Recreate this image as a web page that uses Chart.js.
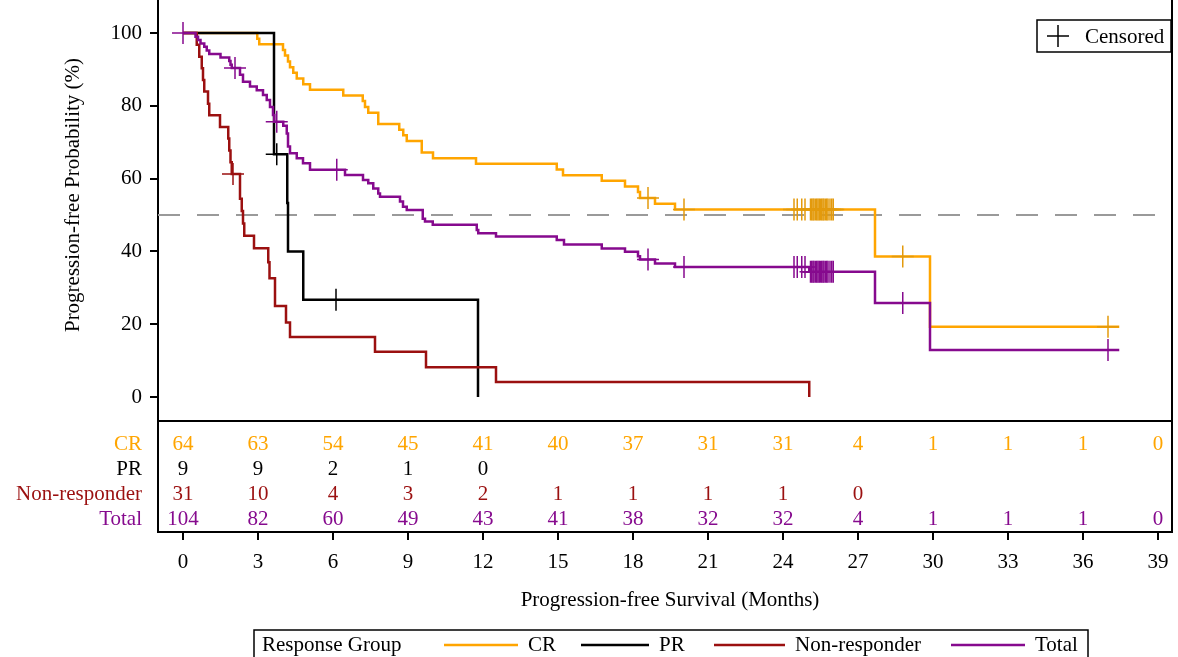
<!DOCTYPE html>
<html>
<head>
<meta charset="utf-8">
<title>Progression-free survival</title>
<script src="https://cdn.jsdelivr.net/npm/chart.js@4/dist/chart.umd.min.js"></script>
<style>
  body { margin: 0; background: #fff; }
</style>
</head>
<body>
<canvas id="kmChart" width="1178" height="657"></canvas>
<script>
// axis ticks
const xTicks = [0, 3, 6, 9, 12, 15, 18, 21, 24, 27, 30, 33, 36, 39];
const yTicks = [0, 20, 40, 60, 80, 100];

// Kaplan-Meier steps: time (months) where the curve drops, value after the drop (%)
const crTime = [0, 2.97, 3.05, 4.0, 4.08, 4.2, 4.28, 4.41, 4.55, 4.81, 5.08, 6.41, 7.19, 7.28, 7.41, 7.81, 8.65, 8.81, 8.95, 9.55, 10.0, 11.72, 14.95, 15.2, 16.75, 17.68, 18.2, 18.28, 18.88, 19.68, 27.68, 29.88, 37.45];
const crSurv = [100, 98.4, 96.9, 95.3, 93.8, 92.2, 90.6, 89.1, 87.5, 85.9, 84.4, 82.8, 81.3, 79.7, 78.1, 75.0, 73.4, 71.9, 70.3, 67.2, 65.6, 64.1, 62.5, 60.9, 59.4, 57.8, 56.3, 54.7, 53.1, 51.5, 38.6, 19.3, 19.3];

const prTime = [0, 3.64, 4.17, 4.2, 4.81, 11.8];
const prSurv = [100, 66.7, 53.3, 40.0, 26.7, 0];

const nrTime = [0, 0.55, 0.65, 0.75, 0.8, 0.85, 1.0, 1.05, 1.48, 1.81, 1.85, 1.9, 1.95, 2.28, 2.35, 2.4, 2.45, 2.84, 3.41, 3.46, 3.68, 4.12, 4.28, 7.68, 9.72, 12.52, 25.05];
const nrSurv = [100, 96.8, 93.5, 90.3, 87.1, 83.9, 80.6, 77.4, 74.2, 71.0, 67.7, 64.5, 61.3, 54.5, 51.1, 47.7, 44.3, 40.9, 37.0, 32.6, 25.0, 20.5, 16.5, 12.4, 8.2, 4.1, 0];

const totalTime = [0, 0.5, 0.6, 0.7, 0.85, 0.95, 1.05, 1.5, 1.85, 1.9, 1.95, 2.28, 2.4, 2.68, 2.95, 3.2, 3.35, 3.48, 3.6, 3.65, 4.01, 4.15, 4.2, 4.28, 4.55, 4.8, 5.08, 6.48, 7.2, 7.41, 7.61, 7.81, 7.88, 8.68, 8.8, 8.95, 9.59, 9.68, 9.99, 11.75, 11.81, 12.52, 14.95, 15.24, 16.75, 17.68, 18.2, 18.28, 18.88, 19.68, 25.05, 27.68, 29.88, 37.45];
const totalSurv = [100, 99.0, 98.1, 97.1, 96.2, 95.2, 94.2, 93.3, 92.3, 91.3, 90.4, 88.5, 86.6, 85.3, 84.3, 83.0, 81.6, 79.7, 77.5, 75.6, 74.5, 72.4, 68.8, 67.0, 65.6, 64.2, 62.4, 61.0, 59.6, 58.7, 57.3, 55.9, 55.0, 53.7, 52.3, 51.4, 49.0, 48.2, 47.3, 45.9, 45.0, 44.1, 43.1, 41.9, 40.8, 39.9, 38.7, 37.8, 36.7, 35.7, 34.4, 25.8, 12.9, 12.9];

// censoring times (months)
const lateCensor = [24.44, 24.57, 24.75, 24.88, 25.1, 25.15, 25.2, 25.24, 25.3, 25.35, 25.4, 25.45, 25.5, 25.55, 25.6, 25.64, 25.7, 25.75, 25.8, 25.88, 25.95, 26.01];
const crCensor = [18.6, 20.04, ...lateCensor, 28.79, 37.0];
const prCensor = [3.75, 6.12];
const nrCensor = [2.0];
const totalCensor = [0, 2.08, 3.75, 6.15, 18.6, 20.04, ...lateCensor, 28.79, 37.0];

// numbers at risk
const riskMonths = [0, 3, 6, 9, 12, 15, 18, 21, 24, 27, 30, 33, 36, 39];
const crRisk = [64, 63, 54, 45, 41, 40, 37, 31, 31, 4, 1, 1, 1, 0];
const prRisk = [9, 9, 2, 1, 0];
const nrRisk = [31, 10, 4, 3, 2, 1, 1, 1, 1, 0];
const totalRisk = [104, 82, 60, 49, 43, 41, 38, 32, 32, 4, 1, 1, 1, 0];

const ORANGE = '#FFA500';
const BLACK = '#000000';
const RED = '#9B1010';
const PURPLE = '#860A8E';
const serif = "'Liberation Serif', 'Times New Roman', serif";

const xMin = -1, xMax = 39.56;
const yMin = -37.09, yMax = 109.07;

function steps(times, survs) {
    return times.map((t, i) => ({ x: t, y: survs[i] }));
}

function survAt(times, survs, t) {
    let v = survs[0];
    for (let i = 0; i < times.length; i++) {
        if (times[i] <= t) v = survs[i];
    }
    return v;
}

function censorPts(cens, times, survs) {
    return cens.map(t => ({ x: t, y: survAt(times, survs, t) }));
}

function curve(label, pts, color, order) {
    return {
        label: label, data: pts, borderColor: color, borderWidth: 2.5,
        stepped: 'before', pointRadius: 0, fill: false, order: order
    };
}

function marks(label, pts, color, order) {
    return {
        label: label, data: pts, showLine: false, pointStyle: 'cross',
        pointRadius: 11, pointBorderWidth: 1.5, borderColor: color,
        pointBorderColor: color, order: order
    };
}

// drop the label overflow padding so the plot box fills the canvas
function noPad(s) {
    s.paddingTop = 0;
    s.paddingBottom = 0;
    s.paddingLeft = 0;
    s.paddingRight = 0;
}

const riskRows = [
    { label: 'CR', color: ORANGE, counts: crRisk, offset: 88 },
    { label: 'PR', color: BLACK, counts: prRisk, offset: 63 },
    { label: 'Non-responder', color: RED, counts: nrRisk, offset: 38 },
    { label: 'Total', color: PURPLE, counts: totalRisk, offset: 13 }
];

const kmExtras = {
    id: 'kmExtras',
    afterDraw(chart) {
        const ctx = chart.ctx;
        const a = chart.chartArea;
        const x = chart.scales.x;
        ctx.save();

        // frame pieces
        ctx.strokeStyle = '#000';
        ctx.lineWidth = 2;
        ctx.beginPath();
        ctx.moveTo(a.right, a.top);
        ctx.lineTo(a.right, a.bottom);
        ctx.moveTo(a.left, a.bottom - 111);
        ctx.lineTo(a.right, a.bottom - 111);
        ctx.stroke();

        // at-risk table
        ctx.font = '21px ' + serif;
        ctx.textBaseline = 'middle';
        riskRows.forEach(row => {
            const y = a.bottom - row.offset;
            ctx.fillStyle = row.color;
            ctx.textAlign = 'right';
            ctx.fillText(row.label, 142, y);
            ctx.textAlign = 'center';
            row.counts.forEach((n, i) => {
                ctx.fillText(String(n), x.getPixelForValue(riskMonths[i]), y);
            });
        });

        // axis titles
        ctx.fillStyle = '#000';
        ctx.textAlign = 'center';
        ctx.fillText('Progression-free Survival (Months)', 670, 600);
        ctx.save();
        ctx.translate(73, 195);
        ctx.rotate(-Math.PI / 2);
        ctx.fillText('Progression-free Probability (%)', 0, 0);
        ctx.restore();

        // censored legend
        ctx.lineWidth = 1.5;
        ctx.strokeRect(1037, 20, 134, 32);
        ctx.beginPath();
        ctx.moveTo(1047, 36); ctx.lineTo(1069, 36);
        ctx.moveTo(1058, 25); ctx.lineTo(1058, 47);
        ctx.stroke();
        ctx.textAlign = 'left';
        ctx.fillText('Censored', 1085, 37);

        // group legend
        ctx.strokeRect(254, 630, 834, 40);
        ctx.fillText('Response Group', 262, 645);
        const items = [
            { label: 'CR', color: ORANGE, x0: 444, x1: 518 },
            { label: 'PR', color: BLACK, x0: 581, x1: 649 },
            { label: 'Non-responder', color: RED, x0: 714, x1: 785 },
            { label: 'Total', color: PURPLE, x0: 951, x1: 1025 }
        ];
        items.forEach(it => {
            ctx.strokeStyle = it.color;
            ctx.lineWidth = 2.5;
            ctx.beginPath();
            ctx.moveTo(it.x0, 645);
            ctx.lineTo(it.x1, 645);
            ctx.stroke();
            ctx.fillStyle = '#000';
            ctx.fillText(it.label, it.x1 + 10, 645);
        });
        ctx.restore();
    }
};

const ctx = document.getElementById('kmChart').getContext('2d');
const kmChart = new Chart(ctx, {
    type: 'line',
    data: {
        datasets: [
            marks('Total censored', censorPts(totalCensor, totalTime, totalSurv), PURPLE, 0),
            curve('Total', steps(totalTime, totalSurv), PURPLE, 1),
            marks('Non-responder censored', censorPts(nrCensor, nrTime, nrSurv), RED, 2),
            curve('Non-responder', steps(nrTime, nrSurv), RED, 3),
            marks('PR censored', censorPts(prCensor, prTime, prSurv), BLACK, 4),
            curve('PR', steps(prTime, prSurv), BLACK, 5),
            marks('CR censored', censorPts(crCensor, crTime, crSurv), '#E39A0C', 6),
            curve('CR', steps(crTime, crSurv), ORANGE, 7),
            {
                label: 'Median', data: [{ x: xMin, y: 50 }, { x: xMax, y: 50 }],
                borderColor: '#9a9a9a', borderWidth: 2, borderDash: [22, 17],
                pointRadius: 0, order: 9
            }
        ]
    },
    options: {
        responsive: false,
        animation: false,
        layout: { autoPadding: false, padding: { left: 0, right: 6, top: 0, bottom: 0 } },
        plugins: { legend: { display: false }, tooltip: { enabled: false } },
        scales: {
            x: {
                type: 'linear', min: xMin, max: xMax,
                afterBuildTicks: s => { s.ticks = xTicks.map(v => ({ value: v })); },
                afterFit: s => { s.height = 125; noPad(s); },
                ticks: { color: '#000', font: { family: serif, size: 21 }, padding: 10, maxRotation: 0, autoSkip: false },
                grid: { drawOnChartArea: false, drawTicks: true, tickLength: 8, color: '#000', lineWidth: 2 },
                border: { display: true, color: '#000', width: 2 }
            },
            y: {
                type: 'linear', min: yMin, max: yMax,
                afterBuildTicks: s => { s.ticks = yTicks.map(v => ({ value: v })); },
                afterFit: s => { s.width = 158; noPad(s); },
                ticks: { color: '#000', font: { family: serif, size: 21 }, padding: 8 },
                grid: { drawOnChartArea: false, drawTicks: true, tickLength: 8, color: '#000', lineWidth: 2 },
                border: { display: true, color: '#000', width: 2 }
            }
        }
    },
    plugins: [kmExtras]
});
</script>
</body>
</html>
